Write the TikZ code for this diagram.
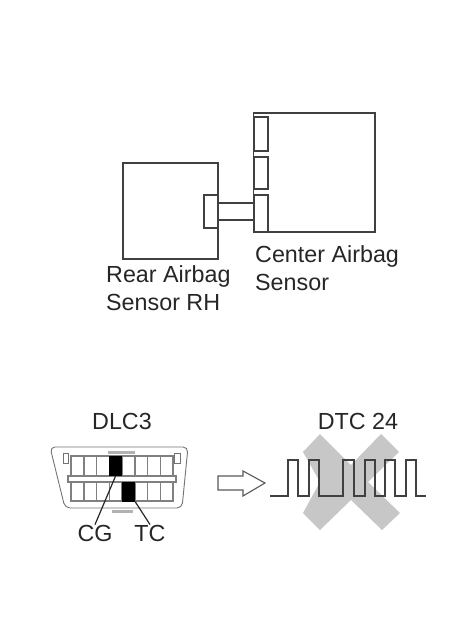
\documentclass[tikz,border=0pt]{standalone}
\usepackage{fontspec}
\setmainfont{Liberation Sans}
\usetikzlibrary{positioning,arrows.meta}
\begin{document}
\begin{tikzpicture}[x=1pt,y=-1pt,
  unit/.style={draw=black!75, line width=1.5pt, fill=white, inner sep=0pt},
  plug/.style={unit, minimum width=14pt},
  pinblack/.style={fill=black, inner sep=0pt, minimum width=13pt, minimum height=20pt},
  lbl/.style={font=\fontsize{23.3}{28}\selectfont, text=black!85, inner sep=0pt, align=left},
  leader/.style={draw=black!85, line width=1.2pt},
  cell/.style={draw=black!50, line width=1.5pt},
  shell/.style={draw=black!55, line width=0.9pt},
  signal/.style={draw=black!75, line width=1.5pt}]
  \useasboundingbox (0,0) rectangle (472,642);
  % airbag sensors
  \node[unit, minimum width=121.5pt, minimum height=119pt] (center) at (314.25,172.5) {};
  \node[unit, minimum width=95pt, minimum height=96pt] (rear) at (170.5,211) {};
  \node[plug, minimum height=34pt] (centerA) at (261,134) {};
  \node[plug, minimum height=32pt] (centerB) at (261,173) {};
  \node[plug, minimum height=37pt] (centerC) at (261,213.5) {};
  \node[plug, minimum height=33pt] (rearplug) at (211,211.5) {};
  \draw[unit] (rearplug.east |- 0,203) -- (centerC.west |- 0,203);
  \draw[unit] (rearplug.east |- 0,220) -- (centerC.west |- 0,220);
  \node[lbl, anchor=north west] (centerlbl) at (255,245) {Center Airbag\\Sensor};
  \node[lbl, anchor=north west] (rearlbl) at (106,265) {Rear Airbag\\Sensor RH};
  % connector
  \draw[shell, rounded corners=5pt] (50,447) -- (188,447) -- (182,508) -- (65,508) -- cycle;
  \fill[black!30] (108,451) rectangle (135,454);
  \fill[black!30] (112,510) rectangle (133,513);
  \draw[shell, fill=white] (63,453) rectangle (68,463);
  \draw[shell, fill=white] (174,453) rectangle (180,463);
  \draw[cell] (71,456) rectangle (173,501);
  \foreach \i in {1,...,7}
    \draw[cell] (71+12.75*\i,456) -- (71+12.75*\i,501);
  \draw[cell, fill=white] (68,476) rectangle (176,482);
  \node[pinblack] (cgpin) at (115.5,466) {};
  \node[pinblack] (tcpin) at (128.5,491.5) {};
  \node[lbl] (dlc) at (122,421) {DLC3};
  \node[lbl] (cg) at (95,533) {CG};
  \node[lbl] (tc) at (150,533) {TC};
  \draw[leader] (cgpin.south) -- (cg.north);
  \draw[leader] (tcpin.south east) -- (tc.north);
  % arrow
  \draw[shell, line width=1.1pt, draw=black!65] (218,476) -- (243,476) -- (243,471) -- (265,483)
    -- (243,496) -- (243,490) -- (218,490) -- cycle;
  % code
  \fill[black!22] (320,434) -- (351,465) -- (381,434) -- (399,452) -- (368,482) -- (400,513)
    -- (382,530) -- (351,500) -- (320,530) -- (303,513) -- (320,482) -- (303,452) -- cycle;
  \draw[signal] (270,496) -- (288,496) -- (288,460) -- (298,460) -- (298,496) -- (309,496)
    -- (309,460) -- (319,460) -- (319,496) -- (343,496) -- (343,460) -- (354,460) -- (354,496)
    -- (365,496) -- (365,460) -- (375,460) -- (375,496) -- (385,496) -- (385,460) -- (395,460)
    -- (395,496) -- (406,496) -- (406,460) -- (416,460) -- (416,496) -- (426,496);
  \node[lbl] (dtc) at (358,421) {DTC 24};
\end{tikzpicture}
\end{document}
